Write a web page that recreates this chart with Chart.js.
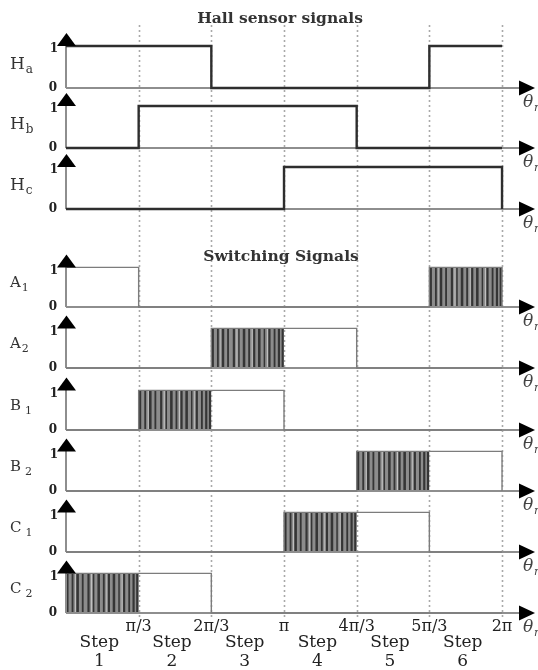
<!DOCTYPE html>
<html><head><meta charset="utf-8">
<script src="https://cdn.jsdelivr.net/npm/chart.js@4/dist/chart.umd.min.js"></script>
<style>html,body{margin:0;padding:0;background:#fff;overflow:hidden}</style>
</head><body>
<canvas id="c" width="538" height="670"></canvas>
<script>
// ---------------- DATA ----------------
const stepBounds = [1, 2, 3, 4, 5, 6];                 // boundaries in units of π/3
const tickLabels = ['π/3', '2π/3', 'π', '4π/3', '5π/3', '2π'];
const stepNumbers = ['1', '2', '3', '4', '5', '6'];
const hallTitle = 'Hall sensor signals';
const switchTitle = 'Switching Signals';

// Hall levels per step (last entry = level right after 2π)
const Ha = [1, 1, 0, 0, 0, 1, 1];
const Hb = [0, 1, 1, 1, 0, 0, 0];
const Hc = [0, 0, 0, 1, 1, 1, 0];

// Switching states per step: 0 = off, 1 = on, 2 = PWM
const A1 = [1, 0, 0, 0, 0, 2];
const A2 = [0, 0, 2, 1, 0, 0];
const B1 = [0, 2, 1, 0, 0, 0];
const B2 = [0, 0, 0, 0, 2, 1];
const C1 = [0, 0, 0, 2, 1, 0];
const C2 = [2, 1, 0, 0, 0, 0];

// PWM carrier pulses inside one step (fraction of step) and their widths
const pwmPulses = [0.02, 0.09, 0.16, 0.23, 0.31, 0.38, 0.45, 0.52, 0.59, 0.66, 0.73, 0.8, 0.87, 0.93, 0.98];
const pwmWidths = [0.03, 0.025, 0.035, 0.025, 0.03, 0.02, 0.035, 0.025, 0.03, 0.035, 0.02, 0.03, 0.025, 0.03, 0.03];

// ---------------- LAYOUT ----------------
const hallRows = [
  { name: 'H', sub: 'a', lv: Ha, base: 2.2 },
  { name: 'H', sub: 'b', lv: Hb, base: 3.7 },
  { name: 'H', sub: 'c', lv: Hc, base: 5.225 }
];
const hallH = 1.05;
const swRows = [
  { name: 'A', sub: '1', gap: 1, st: A1, base: 7.675 },
  { name: 'A', sub: '2', gap: 1, st: A2, base: 9.2 },
  { name: 'B', sub: '1', gap: 4, st: B1, base: 10.75 },
  { name: 'B', sub: '2', gap: 4, st: B2, base: 12.275 },
  { name: 'C', sub: '1', gap: 4, st: C1, base: 13.8 },
  { name: 'C', sub: '2', gap: 4, st: C2, base: 15.325 }
];
const swH = 0.99;
const SERIF = '"DejaVu Serif", "Liberation Serif", serif';

const datasets = [];
hallRows.forEach(r => {
  const pts = [];
  for (let k = 0; k < 6; k++) pts.push({ x: k, y: r.base - hallH * r.lv[k] });
  pts.push({ x: 6, y: r.base - hallH * r.lv[5] });
  pts.push({ x: 6, y: r.base - hallH * r.lv[6] });
  datasets.push({ data: pts, borderColor: '#2e2e2e', borderWidth: 2.4, pointRadius: 0, stepped: true, fill: false });
});
swRows.forEach(r => {
  const pts = [];
  for (let k = 0; k < 6; k++) pts.push({ x: k, y: r.base - swH * (r.st[k] > 0 ? 1 : 0) });
  pts.push({ x: 6, y: r.base - swH * (r.st[5] > 0 ? 1 : 0) });
  pts.push({ x: 6, y: r.base });
  datasets.push({ data: pts, borderColor: '#7c7c7c', borderWidth: 1.4, pointRadius: 0, stepped: true, fill: false });
});

function allRows() {
  return hallRows.map(r => ({ ...r, h: hallH })).concat(swRows.map(r => ({ ...r, h: swH })));
}

const deco = {
  id: 'deco',
  beforeDatasetsDraw(chart) {
    const { ctx, scales: { x, y } } = chart;
    ctx.save();
    // dotted step boundaries
    ctx.strokeStyle = '#a9a9a9'; ctx.lineWidth = 1.6; ctx.setLineDash([2, 3]);
    stepBounds.forEach(k => {
      const px = Math.round(x.getPixelForValue(k)) + 0.5;
      ctx.beginPath(); ctx.moveTo(px, 25); ctx.lineTo(px, 620); ctx.stroke();
    });
    ctx.setLineDash([]);
    // PWM regions
    swRows.forEach(r => {
      r.st.forEach((s, k) => {
        if (s !== 2) return;
        const x0 = x.getPixelForValue(k), x1 = x.getPixelForValue(k + 1);
        const yt = y.getPixelForValue(r.base - swH), yb = y.getPixelForValue(r.base);
        ctx.fillStyle = '#8c8c8c';
        ctx.fillRect(x0, yt, x1 - x0, yb - yt);
        pwmPulses.forEach((f, i) => {
          const cx = x.getPixelForValue(k + f), w = Math.max(1.5, (x1 - x0) * pwmWidths[i]);
          ctx.fillStyle = '#353535';
          ctx.fillRect(cx - w / 2, yt, w, yb - yt);
          if (i % 3 === 1) {
            const lx = x.getPixelForValue(k + f + 0.035);
            ctx.fillStyle = '#c4c4c4';
            ctx.fillRect(lx, yt, 1, yb - yt);
          }
        });
      });
    });
    // axes (baseline + vertical)
    const xa = x.getPixelForValue(0), xe = x.getPixelForValue(6) + 17;
    allRows().forEach(r => {
      const yb = y.getPixelForValue(r.base), yt = y.getPixelForValue(r.base - r.h);
      ctx.strokeStyle = '#8e8e8e'; ctx.lineWidth = 2;
      ctx.beginPath(); ctx.moveTo(xa, yb); ctx.lineTo(xe, yb); ctx.stroke();
      ctx.beginPath(); ctx.moveTo(xa, yb); ctx.lineTo(xa, yt - 2); ctx.stroke();
    });
    ctx.restore();
  },
  afterDatasetsDraw(chart) {
    const { ctx, scales: { x, y } } = chart;
    ctx.save();
    const xa = x.getPixelForValue(0), xe = x.getPixelForValue(6) + 17;
    allRows().forEach(r => {
      const yb = y.getPixelForValue(r.base), yt = y.getPixelForValue(r.base - r.h);
      ctx.fillStyle = '#000';
      // up arrow
      ctx.beginPath(); ctx.moveTo(xa + 0.5, yt - 13); ctx.lineTo(xa + 10, yt); ctx.lineTo(xa - 9, yt); ctx.closePath(); ctx.fill();
      // right arrow
      ctx.beginPath(); ctx.moveTo(xe + 16, yb); ctx.lineTo(xe, yb - 7.5); ctx.lineTo(xe, yb + 7.5); ctx.closePath(); ctx.fill();
      // theta_r
      ctx.fillStyle = '#444';
      ctx.font = 'italic 17px ' + SERIF; ctx.textAlign = 'left'; ctx.textBaseline = 'middle';
      ctx.fillText('θ', xe + 4, yb + 15);
      ctx.font = 'italic 11px ' + SERIF;
      ctx.fillText('r', xe + 15, yb + 20);
      // 1 / 0 labels
      ctx.fillStyle = '#222';
      ctx.font = 'bold 12px ' + SERIF; ctx.textAlign = 'right';
      ctx.fillText('1', xa - 8, yt + 3);
      ctx.fillText('0', xa - 9, yb);
      // row name
      const ym = (yb + yt) / 2;
      const isHall = r.name === 'H';
      ctx.textAlign = 'left';
      ctx.font = (isHall ? '17px ' : '15px ') + SERIF;
      ctx.fillStyle = '#333';
      const yl = isHall ? ym - 2 : ym - 4;
      ctx.fillText(r.name, 10, yl);
      const w = ctx.measureText(r.name).width;
      ctx.font = (isHall ? '12px ' : '11px ') + SERIF;
      ctx.fillText(r.sub, 10 + w + (isHall ? 1 : r.gap), yl + 5);
    });
    // titles
    ctx.fillStyle = '#333'; ctx.textAlign = 'center'; ctx.textBaseline = 'middle';
    ctx.font = 'bold 15.5px ' + SERIF;
    ctx.fillText(hallTitle, 280, 19);
    ctx.fillText(switchTitle, 281, 257);
    // bottom tick labels
    ctx.font = '16px ' + SERIF; ctx.fillStyle = '#222';
    stepBounds.forEach((k, i) => ctx.fillText(tickLabels[i], x.getPixelForValue(k), 627));
    ctx.font = '17px ' + SERIF;
    stepNumbers.forEach((s, i) => {
      const cx = x.getPixelForValue(i + 0.5) - 3;
      ctx.fillText('Step', cx, 643);
      ctx.fillText(s, cx, 662);
    });
    ctx.restore();
  }
};

new Chart(document.getElementById('c'), {
  type: 'line',
  data: { datasets },
  options: {
    responsive: false, animation: false, devicePixelRatio: 1,
    layout: { padding: 0 },
    plugins: { legend: { display: false }, tooltip: { enabled: false }, title: { display: false } },
    scales: {
      x: { type: 'linear', min: -0.908, max: 6.495, display: false },
      y: { type: 'linear', min: 0, max: 16.75, reverse: true, display: false }
    },
    elements: { line: { tension: 0, capBezierPoints: false } }
  },
  plugins: [deco]
});
</script>
</body></html>
